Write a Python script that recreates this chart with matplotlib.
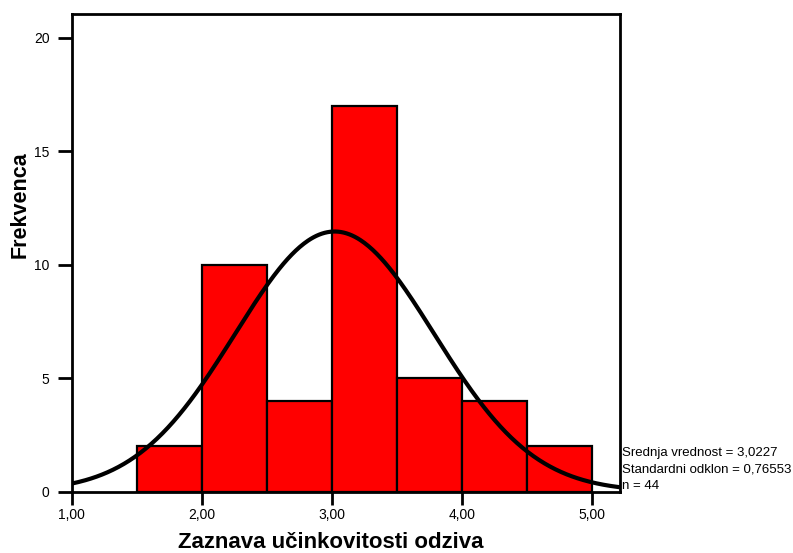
import numpy as np
import matplotlib
matplotlib.use("Agg")
import matplotlib.pyplot as plt

plt.rcParams['font.family'] = ['Liberation Sans', 'DejaVu Sans']

# Histogram bins (lower edges) and frequencies
bin_edges = [1.5, 2.0, 2.5, 3.0, 3.5, 4.0, 4.5, 5.0]
frequencies = [2, 10, 4, 17, 5, 4, 2]

# Summary statistics
mean_value = 3.0227
std_value = 0.76553
n_obs = 44

x_ticks = [1.0, 2.0, 3.0, 4.0, 5.0]
x_tick_labels = ["1,00", "2,00", "3,00", "4,00", "5,00"]
y_ticks = [0, 5, 10, 15, 20]

fig = plt.figure(figsize=(7.93, 5.53), dpi=100)
ax = fig.add_axes([71.7 / 793, 1 - 491.5 / 553, (620 - 71.7) / 793, (491.5 - 13.7) / 553])

widths = np.diff(bin_edges)
ax.bar(bin_edges[:-1], frequencies, width=widths, align='edge',
       color='#ff0000', edgecolor='black', linewidth=1.6, zorder=2)

# Normal curve scaled to the histogram
xmin, xmax = 1.0, 5.218
xs = np.linspace(xmin, xmax, 400)
bw = bin_edges[1] - bin_edges[0]
ys = n_obs * bw / (std_value * np.sqrt(2 * np.pi)) * np.exp(-0.5 * ((xs - mean_value) / std_value) ** 2)
ax.plot(xs, ys, color='black', linewidth=3.0, zorder=3, solid_capstyle='butt')

ax.set_xlim(xmin, xmax)
ax.set_ylim(0, 21.07)
ax.set_xticks(x_ticks)
ax.set_xticklabels(x_tick_labels)
ax.set_yticks(y_ticks)
ax.tick_params(axis='both', direction='out', width=2, labelsize=10, colors='black')
ax.tick_params(axis='x', length=9, pad=3)
ax.tick_params(axis='y', length=10, pad=6)
for s in ax.spines.values():
    s.set_linewidth(2)
    s.set_color('black')

fig.text(20 / 793, 1 - 205 / 553, "Frekvenca", rotation=90, ha='center', va='center',
         fontsize=15.5, fontweight='bold')
fig.text(331 / 793, 1 - 542 / 553, "Zaznava učinkovitosti odziva", ha='center', va='center',
         fontsize=16, fontweight='bold')

stats_lines = [f"Srednja vrednost = {mean_value:.4f}".replace('.', ','),
               f"Standardni odklon = {std_value:.5f}".replace('.', ','),
               f"n = {n_obs}"]
for i, line in enumerate(stats_lines):
    fig.text(622 / 793, 1 - (453 + i * 16.5) / 553, line, ha='left', va='center', fontsize=9.5)

fig.savefig("out.png", dpi=100)
